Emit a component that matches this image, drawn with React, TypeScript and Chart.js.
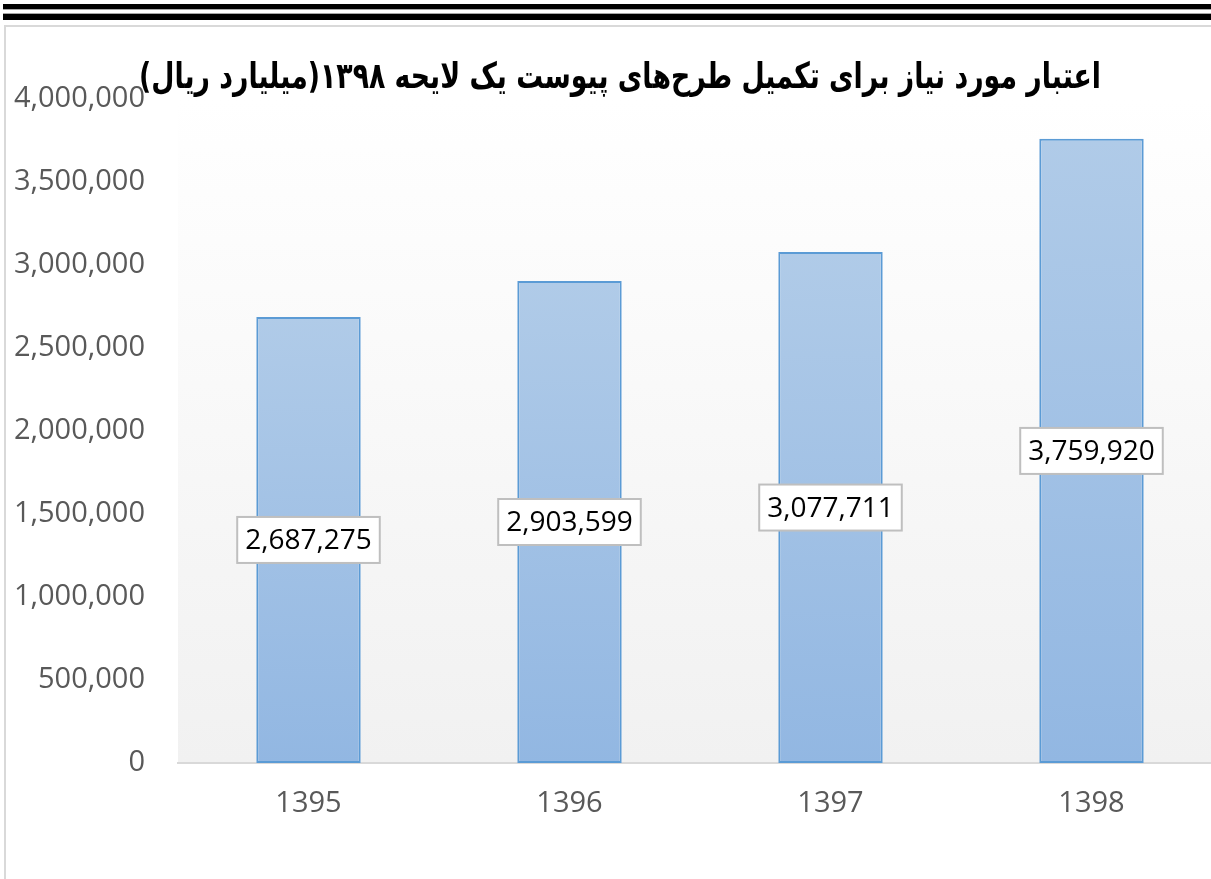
import React, { useEffect, useRef } from 'react';
import { Chart, registerables } from 'chart.js';

Chart.register(...registerables);

const categories = ['1395', '1396', '1397', '1398'];
const values = [2687275, 2903599, 3077711, 3759920];
const yMin = 0;
const yMax = 4000000;
const yStep = 500000;
const titleText = 'اعتبار مورد نیاز برای تکمیل طرح‌های پیوست یک لایحه ۱۳۹۸(میلیارد ریال)';

const CANVAS_W = 1240;
const CANVAS_H = 879;
const FONT = '"Open Sans", "DejaVu Sans", sans-serif';

const fmt = (v: number) => Number(v).toLocaleString('en-US');

const decorPlugin = {
  id: 'decor',
  beforeDraw(chart: any) {
    const { ctx, chartArea } = chart;
    ctx.save();
    ctx.fillStyle = '#ffffff';
    ctx.fillRect(0, 0, chart.width, chart.height);
    // double rule at top
    ctx.fillStyle = '#000000';
    ctx.fillRect(3, 4, chart.width, 5);
    ctx.fillRect(3, 14, chart.width, 6);
    ctx.fillStyle = '#a6a6a6';
    ctx.fillRect(3, 9, chart.width, 1);
    ctx.fillRect(3, 13, chart.width, 1);
    // chart box
    ctx.strokeStyle = '#d9d9d9';
    ctx.lineWidth = 2;
    ctx.strokeRect(5, 26, chart.width + 20, chart.height + 20);
    // plot area gradient
    const g = ctx.createLinearGradient(0, chartArea.top, 0, chartArea.bottom);
    g.addColorStop(0, '#ffffff');
    g.addColorStop(1, '#f1f1f1');
    ctx.fillStyle = g;
    ctx.fillRect(chartArea.left, chartArea.top, chartArea.right - chartArea.left, chartArea.bottom - chartArea.top);
    ctx.restore();
  },
};

const titlePlugin = {
  id: 'rtlTitle',
  afterDraw(chart: any) {
    const { ctx } = chart;
    ctx.save();
    ctx.direction = 'rtl';
    ctx.font = 'bold 36px "DejaVu Sans", sans-serif';
    ctx.fillStyle = '#000000';
    ctx.textAlign = 'center';
    ctx.textBaseline = 'middle';
    const w = ctx.measureText(titleText).width;
    const sx = Math.min(1, 962 / w);
    ctx.translate(620, 79);
    ctx.scale(sx, 1);
    ctx.fillText(titleText, 0, 0);
    ctx.restore();
  },
};

const labelPlugin = {
  id: 'boxLabels',
  afterDatasetsDraw(chart: any) {
    const { ctx } = chart;
    const meta = chart.getDatasetMeta(0);
    ctx.save();
    ctx.font = `28px ${FONT}`;
    ctx.textAlign = 'center';
    ctx.textBaseline = 'middle';
    meta.data.forEach((bar: any, i: number) => {
      const text = fmt(values[i]);
      const w = ctx.measureText(text).width + 16;
      const h = 46;
      const cx = bar.x;
      const cy = (bar.y + bar.base) / 2;
      ctx.fillStyle = '#ffffff';
      ctx.fillRect(cx - w / 2, cy - h / 2, w, h);
      ctx.strokeStyle = '#bfbfbf';
      ctx.lineWidth = 2;
      ctx.strokeRect(cx - w / 2, cy - h / 2, w, h);
      ctx.fillStyle = '#000000';
      ctx.fillText(text, cx, cy + 1);
    });
    ctx.restore();
  },
};

export default function App() {
  const ref = useRef<HTMLCanvasElement | null>(null);

  useEffect(() => {
    if (!ref.current) return;
    const chart = new Chart(ref.current, {
      type: 'bar',
      data: {
        labels: categories,
        datasets: [
          {
            data: values,
            backgroundColor: (c: any) => {
              const ch = c.chart;
              const ys = ch.scales && ch.scales.y;
              if (!ys || c.dataIndex === undefined) return '#a3c2e6';
              const top = ys.getPixelForValue(values[c.dataIndex]);
              const bot = ys.getPixelForValue(0);
              if (!isFinite(top) || !isFinite(bot) || top === bot) return '#a3c2e6';
              const g = ch.ctx.createLinearGradient(0, top, 0, bot);
              g.addColorStop(0, '#b0cbe8');
              g.addColorStop(1, '#92b7e2');
              return g;
            },
            borderColor: '#5b9bd5',
            borderWidth: 2,
            borderSkipped: false,
            barPercentage: 1,
            categoryPercentage: 0.4,
          },
        ],
      },
      plugins: [decorPlugin, labelPlugin, titlePlugin],
      options: {
        animation: false,
        responsive: false,
        devicePixelRatio: 1,
        layout: { padding: { left: 0, top: 99, right: CANVAS_W - 1222, bottom: 0 } },
        plugins: {
          legend: { display: false },
          title: { display: false },
          tooltip: { enabled: false },
        },
        scales: {
          x: {
            grid: { display: false, drawTicks: false },
            border: { display: true, color: '#d9d9d9', width: 2 },
            ticks: { color: '#595959', font: { family: FONT, size: 29 }, padding: 23 },
            afterFit: (s: any) => {
              s.height = CANVAS_H - 763;
            },
          },
          y: {
            min: yMin,
            max: yMax,
            grid: { display: false, drawTicks: false },
            border: { display: false },
            ticks: {
              stepSize: yStep,
              color: '#595959',
              font: { family: FONT, size: 29 },
              padding: 33,
              callback: (v: any) => fmt(v),
            },
            afterFit: (s: any) => {
              s.width = 178;
            },
          },
        },
      },
    } as any);
    return () => chart.destroy();
  }, []);

  return (
    <div
      style={{
        position: 'absolute',
        left: 0,
        top: 0,
        width: 1211,
        height: 879,
        overflow: 'hidden',
        background: '#ffffff',
      }}
    >
      <canvas ref={ref} width={CANVAS_W} height={CANVAS_H} style={{ display: 'block', width: CANVAS_W, height: CANVAS_H }} />
    </div>
  );
}
